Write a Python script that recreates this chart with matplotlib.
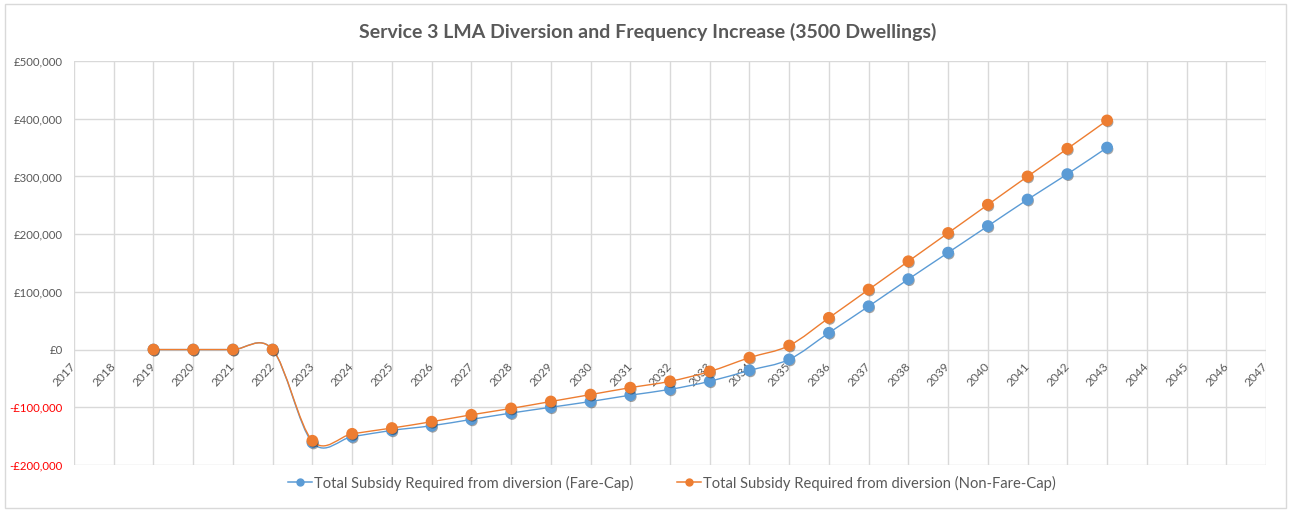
import matplotlib
matplotlib.use("Agg")
import matplotlib.pyplot as plt
import matplotlib.patheffects as pe
from matplotlib.path import Path
from matplotlib.patches import PathPatch, Rectangle
from matplotlib.lines import Line2D
from matplotlib.ticker import FuncFormatter

plt.rcParams["font.family"] = ["Lato", "DejaVu Sans"]

# category axis and the two subsidy series (first value is for 2019)
years = [str(y) for y in range(2017, 2048)]
series_start = "2019"
fare_cap = [0, 0, 0, 0, -161000, -151000, -140000, -132000, -121000, -110000,
            -100000, -90000, -79000, -69000, -55000, -36000, -17000, 29000,
            75000, 122000, 168000, 214000, 260000, 304000, 350000]
non_fare_cap = [0, 0, 0, 0, -158000, -146000, -136000, -125000, -113000,
                -102000, -90000, -78000, -66000, -55000, -38000, -14000, 7000,
                55000, 104000, 153000, 202000, 251000, 300000, 348000, 397000]
y_ticks = [-200000, -100000, 0, 100000, 200000, 300000, 400000, 500000]

BLUE = "#5B9BD5"
ORANGE = "#ED7D31"
GRID = "#D9D9D9"
TEXT = "#595959"


def smooth_path(xs, ys):
    # Excel-style smoothed line: cubic bezier through every point
    pts = list(zip(xs, ys))
    n = len(pts)
    verts = [pts[0]]
    codes = [Path.MOVETO]
    for i in range(n - 1):
        p0 = pts[max(i - 1, 0)]
        p1 = pts[i]
        p2 = pts[i + 1]
        p3 = pts[min(i + 2, n - 1)]
        c1 = (p1[0] + (p2[0] - p0[0]) / 6, p1[1] + (p2[1] - p0[1]) / 6)
        c2 = (p2[0] - (p3[0] - p1[0]) / 6, p2[1] - (p3[1] - p1[1]) / 6)
        verts += [c1, c2, p2]
        codes += [Path.CURVE4] * 3
    return Path(verts, codes)


fig = plt.figure(figsize=(12.9, 5.14), dpi=100)
ax = fig.add_axes([74 / 1290, 49 / 514, 1192 / 1290, 404 / 514])

start = years.index(series_start)
shadow = [pe.SimplePatchShadow(offset=(0.8, -1.2), alpha=0.35, shadow_rgbFace="black"),
          pe.Normal()]

for vals, color, z in [(fare_cap, BLUE, 3), (non_fare_cap, ORANGE, 4)]:
    xs = list(range(start, start + len(vals)))
    ax.add_patch(PathPatch(smooth_path(xs, vals), fill=False, edgecolor=color,
                           linewidth=1.0, zorder=z))
    ax.plot(xs, vals, linestyle="none", marker="o", markersize=7.5,
            color=color, zorder=z + 0.5, path_effects=shadow)

ax.set_xlim(0, len(years) - 1)
ax.set_ylim(-200000, 500000)
ax.set_yticks(y_ticks)
ax.yaxis.set_major_formatter(FuncFormatter(
    lambda v, _: f"-£{abs(v):,.0f}" if v < 0 else f"£{v:,.0f}"))

# category labels sit on the zero line, as in the spreadsheet chart
ax.spines["bottom"].set_position(("data", 0))
for s in ax.spines.values():
    s.set_visible(False)
ax.tick_params(axis="both", length=0)
ax.tick_params(axis="x", pad=10.5, labelsize=8.6, labelcolor=TEXT)
ax.tick_params(axis="y", pad=8, labelsize=8.2)
ax.grid(True, color=GRID, linewidth=1.0)
ax.set_axisbelow(True)

ax.set_xticks(range(len(years)))
ax.set_xticklabels(years)
for lbl in ax.get_xticklabels():
    lbl.set_rotation(47)
    lbl.set_rotation_mode("anchor")
    lbl.set_ha("right")
    lbl.set_va("center")
    lbl.set_color(TEXT)
for lbl, v in zip(ax.get_yticklabels(), y_ticks):
    lbl.set_color("#FF0000" if v < 0 else TEXT)

fig.text(648 / 1290, 1 - 32 / 514, "Service 3 LMA Diversion and Frequency Increase (3500 Dwellings)",
         ha="center", va="center", fontsize=14, fontweight="bold", color=TEXT)

handles = [Line2D([], [], color=BLUE, marker="o", markersize=5, linewidth=1.1),
           Line2D([], [], color=ORANGE, marker="o", markersize=5, linewidth=1.1)]
fig.legend(handles,
           ["Total Subsidy Required from diversion (Fare-Cap)",
            "Total Subsidy Required from diversion (Non-Fare-Cap)"],
           loc="center", bbox_to_anchor=(0.521, 1 - 483 / 514), ncol=2,
           frameon=False, fontsize=10.6, labelcolor=TEXT, handlelength=1.6,
           handletextpad=0.15, columnspacing=3.0)

fig.patches.append(Rectangle((5 / 1290, 6 / 514), 1281 / 1290, 504 / 514,
                             transform=fig.transFigure, fill=False,
                             edgecolor=GRID, linewidth=1.0))

fig.savefig("out.png", dpi=100, facecolor="white")
